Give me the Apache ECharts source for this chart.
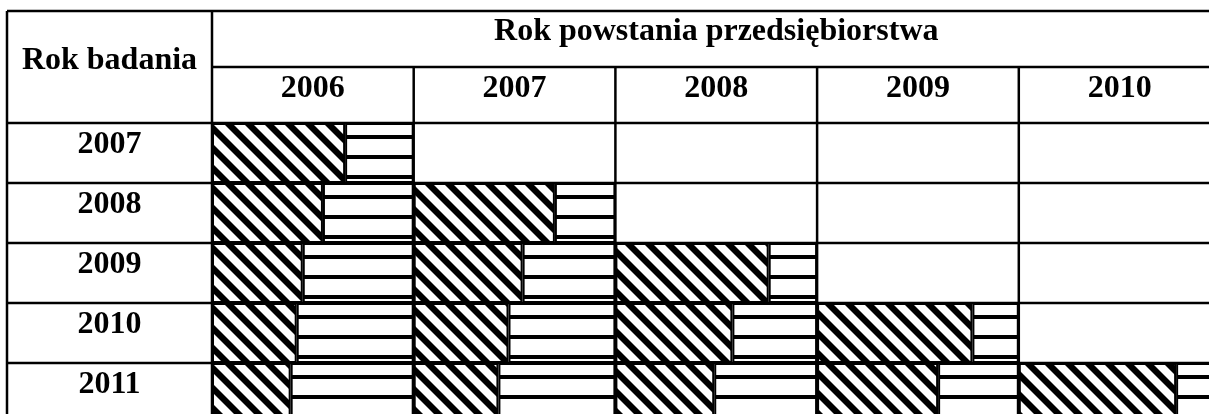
<!DOCTYPE html>
<html><head><meta charset="utf-8">
<script src="https://cdn.jsdelivr.net/npm/echarts@6/dist/echarts.min.js"></script>
<style>html,body{margin:0;padding:0;background:#fff}#c{width:1209px;height:414px}</style>
</head><body><div id="c"></div>
<script>
// ---------- data ----------
const surveyYears = ['2007', '2008', '2009', '2010', '2011'];
const foundingYears = ['2006', '2007', '2008', '2009', '2010'];
const headerSurvey = 'Rok badania';
const headerFounding = 'Rok powstania przedsiębiorstwa';
// diagonally hatched share (%) of each cell, rows = survey years
const hatched2006 = [66, 55, 45, 42, 39];
const hatched2007 = ['-', 70, 54, 47, 42];
const hatched2008 = ['-', '-', 76, 58, 49];
const hatched2009 = ['-', '-', '-', 77, 60];
const hatched2010 = ['-', '-', '-', '-', 78];
// horizontally striped share (%) of each cell
const striped2006 = [34, 45, 55, 58, 61];
const striped2007 = ['-', 30, 46, 53, 58];
const striped2008 = ['-', '-', 24, 42, 51];
const striped2009 = ['-', '-', '-', 23, 40];
const striped2010 = ['-', '-', '-', '-', 22];

const hatchedCols = [hatched2006, hatched2007, hatched2008, hatched2009, hatched2010];
const stripedCols = [striped2006, striped2007, striped2008, striped2009, striped2010];

// ---------- layout ----------
const L = { left: 7, top: 11, headSplit: 67, headBottom: 123, labelRight: 212, colW: 201.7, rowH: 60, lw: 2.5, labelLift: 8 };
const FONT = { fontSize: 32, fontWeight: 'bold', fontFamily: "'Liberation Serif', 'Times New Roman', serif" };
const tableRight = L.labelRight + L.colW * foundingYears.length;
const tableBottom = L.headBottom + L.rowH * surveyYears.length;

function diagTile() {
  const c = document.createElement('canvas'); c.width = 20; c.height = 20;
  const g = c.getContext('2d');
  g.fillStyle = '#fff'; g.fillRect(0, 0, 20, 20);
  g.fillStyle = '#000';
  for (const k of [-20, 0, 20]) {
    g.beginPath(); g.moveTo(k, 0); g.lineTo(k + 9, 0); g.lineTo(k + 29, 20); g.lineTo(k + 20, 20); g.closePath(); g.fill();
  }
  return c;
}
function stripeTile() {
  const c = document.createElement('canvas'); c.width = 20; c.height = 20;
  const g = c.getContext('2d');
  g.fillStyle = '#fff'; g.fillRect(0, 0, 20, 20);
  g.fillStyle = '#000'; g.fillRect(0, 15, 20, 4);
  return c;
}
const diagFill = { image: diagTile(), repeat: 'repeat' };
const stripeFill = { image: stripeTile(), repeat: 'repeat' };

const gridBase = { top: L.headBottom, height: L.rowH * surveyYears.length, outerBoundsMode: 'none', containLabel: false };
// label column: its rows are lifted a little so the year sits in the upper part of each cell
const grids = [Object.assign({}, gridBase, { left: L.left, width: L.labelRight - L.left, top: L.headBottom - L.labelLift })];
const xAxes = [{ type: 'value', gridIndex: 0, show: false, min: 0, max: 100 }];
const yAxes = [{
  type: 'category', gridIndex: 0, data: surveyYears, inverse: true,
  axisLine: { show: false }, axisTick: { show: false }, splitLine: { show: false },
  axisLabel: Object.assign({ inside: true, margin: (L.labelRight - L.left) / 2, align: 'center', verticalAlign: 'middle',
    color: '#000', interval: 0 }, FONT)
}];
const series = [];
foundingYears.forEach((fy, i) => {
  grids.push(Object.assign({ left: L.labelRight + i * L.colW, width: L.colW }, gridBase));
  xAxes.push({ type: 'value', gridIndex: i + 1, show: false, min: 0, max: 100 });
  yAxes.push({ type: 'category', gridIndex: i + 1, data: surveyYears, inverse: true, show: false });
  const common = { type: 'bar', xAxisIndex: i + 1, yAxisIndex: i + 1, stack: 'col' + fy, barWidth: '100%', silent: true };
  series.push(Object.assign({ name: fy + ' a', data: hatchedCols[i], itemStyle: { color: diagFill, borderColor: '#000', borderWidth: 2 } }, common));
  series.push(Object.assign({ name: fy + ' b', data: stripedCols[i], itemStyle: { color: stripeFill, borderColor: '#000', borderWidth: 2 } }, common));
});

// table rules and header texts
const graphic = [];
const line = (x1, y1, x2, y2) => graphic.push({ type: 'line', z: 100, silent: true, shape: { x1, y1, x2, y2 }, style: { stroke: '#000', lineWidth: L.lw } });
line(L.left, L.top, tableRight, L.top);
line(L.labelRight, L.headSplit, tableRight, L.headSplit);
for (let r = 0; r <= surveyYears.length; r++) line(L.left, L.headBottom + r * L.rowH, tableRight, L.headBottom + r * L.rowH);
line(L.left, L.top, L.left, tableBottom);
line(L.labelRight, L.top, L.labelRight, tableBottom);
for (let c = 1; c <= foundingYears.length; c++) line(L.labelRight + c * L.colW, L.headSplit, L.labelRight + c * L.colW, tableBottom);
const text = (t, x, y) => graphic.push({ type: 'text', z: 100, silent: true, x, y,
  style: Object.assign({ text: t, fill: '#000', align: 'center', verticalAlign: 'middle' }, FONT) });
text(headerSurvey, (L.left + L.labelRight) / 2, 61);
text(headerFounding, (L.labelRight + tableRight) / 2, 32);
foundingYears.forEach((fy, i) => text(fy, L.labelRight + (i + 0.5) * L.colW, 88.5));

const chart = echarts.init(document.getElementById('c'), null, { renderer: 'canvas' });
chart.setOption({
  animation: false,
  backgroundColor: '#fff',
  grid: grids, xAxis: xAxes, yAxis: yAxes, series, graphic
});
</script></body></html>
